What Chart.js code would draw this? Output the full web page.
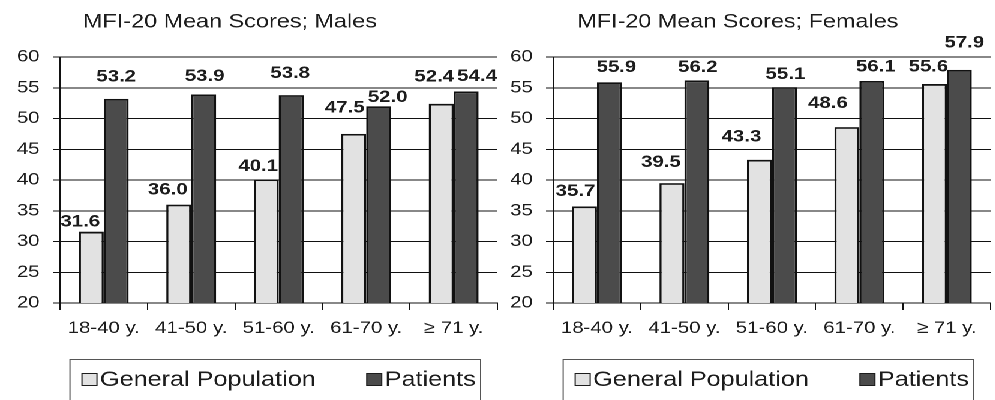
<!DOCTYPE html>
<html>
<head>
<meta charset="utf-8">
<script src="https://cdn.jsdelivr.net/npm/chart.js@4.4.1/dist/chart.umd.min.js"></script>
<style>
  html, body { margin: 0; padding: 0; background: #fff; overflow: hidden; }
  /* the source picture is stretched ~1.2x horizontally, so the stage is too */
  #stage { position: absolute; left: 0; top: 0; width: 830px; height: 400px; transform: scaleX(1.2); transform-origin: 0 0; }
  #stage canvas { position: absolute; top: 0; width: 417px; height: 400px; }
</style>
</head>
<body>
<div id="stage">
  <canvas id="malesChart" width="417" height="400" style="left:0"></canvas>
  <canvas id="femalesChart" width="417" height="400" style="left:411px"></canvas>
</div>
<script>
// data
const ageGroups = ["18-40 y.", "41-50 y.", "51-60 y.", "61-70 y.", "\u2265 71 y."];
const seriesNames = ["General Population", "Patients"];
const malesGeneral = [31.6, 36.0, 40.1, 47.5, 52.4];
const malesPatients = [53.2, 53.9, 53.8, 52.0, 54.4];
const femalesGeneral = [35.7, 39.5, 43.3, 48.6, 55.6];
const femalesPatients = [55.9, 56.2, 55.1, 56.1, 57.9];
const yMin = 20, yMax = 60, yStep = 5;

const STRETCH = 1.2;
const FONT = "Arial, 'Liberation Sans', sans-serif";
const INK = "#1c1c1c";
const LINE = "#111";
const lightFill = "#e2e2e2";
const darkFill = "#4b4b4b";

// label nudges (final px, relative to bar centre / bar top), like the hand-moved Excel labels
const malesNudge = [
  [[-11, -10], [-11, -15], [-8, -13], [-9, -26], [-7, -27]],
  [[0, -22], [1, -18], [-1, -22], [9, -9], [11, -15]]
];
const femalesNudge = [
  [[-9, -15], [-11, -21], [-18, -23], [-19, -24], [-6, -17]],
  [[7, -15], [1, -13], [1, -13], [4, -14], [5, -27]]
];

// titles, value labels and the boxed legend
const panelDecor = {
  id: "panelDecor",
  afterDraw(chart, args, opts) {
    const ctx = chart.ctx;
    ctx.save();
    ctx.fillStyle = INK;

    // title
    ctx.font = "19.5px " + FONT;
    ctx.textAlign = "left";
    ctx.textBaseline = "middle";
    ctx.fillText(opts.title, opts.titleX / STRETCH, 22);

    // value labels
    ctx.font = "bold 17px " + FONT;
    ctx.textAlign = "center";
    chart.data.datasets.forEach((ds, i) => {
      const meta = chart.getDatasetMeta(i);
      meta.data.forEach((bar, j) => {
        const n = opts.nudge[i][j];
        ctx.fillText(ds.data[j].toFixed(1), bar.x + n[0] / STRETCH, bar.y + n[1]);
      });
    });

    // legend box
    const left = 58.3, right = 400.5, top = 359;
    ctx.strokeStyle = "#555";
    ctx.lineWidth = 1;
    ctx.strokeRect(left, top + 0.5, right - left, 60);

    ctx.font = "21px " + FONT;
    ctx.textAlign = "left";
    const sq = 12.5, midY = 380;
    const ds = chart.data.datasets;
    // first item from the left edge
    let x = left + 10;
    ctx.fillStyle = ds[0].backgroundColor;
    ctx.fillRect(x, midY - 6.5, sq, 12);
    ctx.strokeStyle = INK;
    ctx.strokeRect(x, midY - 6.5, sq, 12);
    ctx.fillStyle = INK;
    ctx.fillText(ds[0].label, x + sq + 2.5, midY);
    // second item against the right edge
    const w = ctx.measureText(ds[1].label).width;
    x = right - 4 - w - sq - 2.5;
    ctx.fillStyle = ds[1].backgroundColor;
    ctx.fillRect(x, midY - 6.5, sq, 12);
    ctx.strokeRect(x, midY - 6.5, sq, 12);
    ctx.fillStyle = INK;
    ctx.fillText(ds[1].label, x + sq + 2.5, midY);
    ctx.restore();
  }
};

const makeChart = (canvasId, title, titleX, general, patients, nudge) => {
  new Chart(document.getElementById(canvasId), {
    type: "bar",
    data: {
      labels: ageGroups,
      datasets: [
        { label: seriesNames[0], data: general, backgroundColor: lightFill },
        { label: seriesNames[1], data: patients, backgroundColor: darkFill }
      ]
    },
    options: {
      responsive: false,
      devicePixelRatio: 2,
      animation: false,
      layout: { padding: { top: 57, right: 2.5, bottom: 57, left: 0 } },
      datasets: {
        bar: {
          categoryPercentage: 0.57,
          barPercentage: 1.0,
          borderColor: "#111",
          borderWidth: 1.8,
          borderSkipped: false
        }
      },
      scales: {
        x: {
          grid: { offset: true, drawOnChartArea: false, tickLength: 7, color: LINE, lineWidth: 1 },
          border: { display: true, color: LINE, width: 1 },
          ticks: { font: { family: FONT, size: 17 }, color: INK, padding: 8, maxRotation: 0, autoSkip: false },
          afterFit: s => { s.height = 40; }
        },
        y: {
          min: yMin,
          max: yMax,
          grid: { color: LINE, lineWidth: 1, tickLength: 6 },
          border: { display: true, color: LINE, width: 1 },
          ticks: { stepSize: yStep, font: { family: FONT, size: 17 }, color: INK, padding: 11 },
          afterFit: s => { s.width = 50; }
        }
      },
      plugins: {
        legend: { display: false },
        tooltip: { enabled: false },
        panelDecor: { title: title, titleX: titleX, nudge: nudge }
      }
    },
    plugins: [panelDecor]
  });
};

makeChart("malesChart", "MFI-20 Mean Scores; Males", 83, malesGeneral, malesPatients, malesNudge);
makeChart("femalesChart", "MFI-20 Mean Scores; Females", 84, femalesGeneral, femalesPatients, femalesNudge);
</script>
</body>
</html>
